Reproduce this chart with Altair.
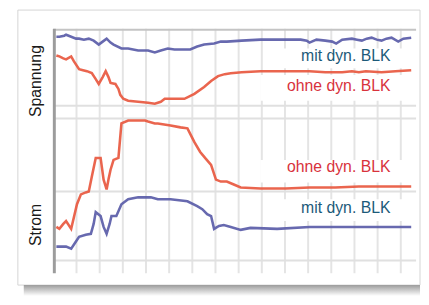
import altair as alt
import pandas as pd

# time axis: 1 unit = one vertical grid division; values in relative units
sp_mit_t = [0.13,0.26,0.47,0.55,0.77,0.98,1.11,1.32,1.53,1.74,1.96,2.13,2.30,2.47,2.60,2.94,3.23,3.66,4.09,4.38,4.64,4.94,5.23,5.49,5.91,6.21,6.51,6.94,7.23,7.49,8.13,8.94,10.04,10.68,10.94,11.06,11.36,11.74,12.04,12.21,12.47,12.89,13.11,13.32,13.53,13.74,13.96,14.17,14.38,14.60,14.89,15.11,15.45]
sp_mit_v = [240,240,241,242,240,238,238,237,238,236,232,235,238,234,232,228,228,226,226,224,226,228,227,227,227,230,232,233,235,235,236,237,237,237,236,234,237,236,235,233,237,238,237,236,238,239,237,236,238,239,235,238,239]

sp_ohne_t = [0.13,0.26,0.43,0.55,0.77,0.89,1.11,1.28,1.45,1.66,1.83,1.96,2.13,2.26,2.38,2.47,2.68,2.81,2.89,3.02,3.23,3.66,4.09,4.38,4.64,4.81,5.23,5.66,6.09,6.51,6.81,7.11,7.40,7.66,8.13,8.94,10.04,11.06,11.74,12.47,12.89,13.19,13.49,14.17,14.77,15.45]
sp_ohne_v = [221,220,218,217,220,215,207,206,205,203,197,192,199,205,199,193,192,187,181,177,175,174,173,172,174,177,177,177,182,189,195,200,202,203,204,205,205,205,204,204,205,204,205,204,205,206]

st_ohne_t = [0.13,0.26,0.43,0.55,0.77,0.89,1.02,1.19,1.40,1.53,1.66,1.83,2.04,2.17,2.30,2.38,2.47,2.60,2.81,2.94,3.23,3.66,3.96,4.09,4.38,4.51,5.06,5.49,5.79,6.09,6.34,6.55,6.81,7.02,7.23,7.49,7.79,8.09,8.94,10.04,11.06,12.17,13.19,14.30,15.45]
st_ohne_v = [47,45,50,53,45,57,70,80,82,83,98,117,117,95,85,95,105,115,117,152,155,155,155,154,152,152,150,148,147,133,123,117,110,95,93,93,90,87,86,86,87,87,88,88,88]

st_mit_t = [0.13,0.26,0.55,0.77,0.94,1.11,1.40,1.62,1.74,1.83,2.04,2.17,2.30,2.43,2.51,2.72,2.94,3.23,3.66,4.21,4.51,5.06,5.79,6.21,6.43,6.64,6.81,6.94,7.15,7.36,7.66,8.09,8.51,9.66,11.06,13.19,15.45]
st_mit_v = [27,27,27,25,31,37,39,40,50,62,58,47,40,50,58,58,70,75,77,77,75,75,73,68,65,60,58,45,48,49,47,44,46,45,47,47,47]

grid_t = list(range(1, 16))
grid_v = [13, 83, 157, 170]

label_text = ["mit dyn. BLK", "ohne dyn. BLK", "ohne dyn. BLK", "mit dyn. BLK"]
label_kind = ["mit", "ohne", "ohne", "mit"]
label_v = [220, 190, 108, 66]
box_t0 = [9.57, 8.94, 8.94, 9.57]
box_v0 = [208, 175, 92, 53]
box_v1 = [228, 201, 115, 75]

title_text = ["Spannung", "Strom"]
title_v = [195, 49]

# ---- tables ----
rows = []
for name, kind, ts, vs in [("Spannung mit", "mit", sp_mit_t, sp_mit_v),
                           ("Spannung ohne", "ohne", sp_ohne_t, sp_ohne_v),
                           ("Strom ohne", "ohne", st_ohne_t, st_ohne_v),
                           ("Strom mit", "mit", st_mit_t, st_mit_v)]:
    for t, v in zip(ts, vs):
        rows.append({"t": t, "v": v, "series": name, "kind": kind})
lines_df = pd.DataFrame(rows)
vgrid_df = pd.DataFrame({"t": grid_t})
hgrid_df = pd.DataFrame({"v": grid_v})
labels_df = pd.DataFrame({"text": label_text, "kind": label_kind, "v": label_v,
                          "t0": box_t0, "t1": [15.45] * 4, "v0": box_v0, "v1": box_v1})
titles_df = pd.DataFrame({"text": title_text, "v": title_v})
one = pd.DataFrame({"a": [0]})

xs = alt.Scale(domain=[0, 15.66], nice=False, zero=False)
ys = alt.Scale(domain=[0, 248], nice=False, zero=False)

FONT = "Liberation Sans"

card = alt.Chart(one).mark_rect(fill="white", stroke="#d4d4d4", strokeWidth=1).encode(
    x=alt.value(-36), x2=alt.value(372), y=alt.value(-19), y2=alt.value(260))

shadow = alt.Chart(one).mark_rect(
    fill=alt.Gradient(gradient="linear",
                      stops=[alt.GradientStop(color="#9c9c9c", offset=0),
                             alt.GradientStop(color="#ffffff", offset=1)],
                      x1=0, x2=0, y1=0, y2=1)).encode(
    x=alt.value(-30), x2=alt.value(372), y=alt.value(260), y2=alt.value(271))

vgrid = alt.Chart(vgrid_df).mark_rule(color="#e4e4e4", strokeWidth=2).encode(
    x=alt.X("t:Q", scale=xs, axis=None))
hgrid = alt.Chart(hgrid_df).mark_rule(color="#e0e0e0", strokeWidth=2).encode(
    y=alt.Y("v:Q", scale=ys, axis=None))

frame_top = alt.Chart(one).mark_rule(color="#c4c4c4", strokeWidth=2).encode(
    x=alt.value(0), x2=alt.value(368), y=alt.value(1))
frame_left = alt.Chart(one).mark_rule(color="#9c9c9c", strokeWidth=3).encode(
    x=alt.value(1), y=alt.value(0), y2=alt.value(248))

boxes = alt.Chart(labels_df).mark_rect(fill="white").encode(
    x=alt.X("t0:Q", scale=xs, axis=None), x2="t1:Q",
    y=alt.Y("v0:Q", scale=ys, axis=None), y2="v1:Q")

lines = alt.Chart(lines_df).mark_line(strokeWidth=2.6, opacity=0.92).encode(
    x=alt.X("t:Q", scale=xs, axis=None),
    y=alt.Y("v:Q", scale=ys, axis=None),
    color=alt.Color("kind:N", scale=alt.Scale(domain=["mit", "ohne"],
                                              range=["#5a5ca8", "#e8583f"]), legend=None),
    detail="series:N")

text_mit = alt.Chart(labels_df).transform_filter(alt.datum.kind == "mit").mark_text(
    align="right", baseline="middle", font=FONT, fontSize=16, color="#1c5a79").encode(
    x=alt.value(342), y=alt.Y("v:Q", scale=ys, axis=None), text="text:N")
text_ohne = alt.Chart(labels_df).transform_filter(alt.datum.kind == "ohne").mark_text(
    align="right", baseline="middle", font=FONT, fontSize=16, color="#d8323c").encode(
    x=alt.value(342), y=alt.Y("v:Q", scale=ys, axis=None), text="text:N")

titles = alt.Chart(titles_df).mark_text(
    angle=270, align="center", baseline="middle", font=FONT, fontSize=16, color="#1a1a1a").encode(
    x=alt.value(-18), y=alt.Y("v:Q", scale=ys, axis=None), text="text:N")

chart = alt.layer(card, shadow, vgrid, hgrid, boxes, frame_top, frame_left,
                  lines, text_mit, text_ohne, titles).properties(
    width=368, height=248,
    autosize=alt.AutoSizeParams(type="none"),
    padding={"left": 46, "top": 19, "right": 5, "bottom": 22},
).configure_view(strokeWidth=0)

chart.save("out.html", embed_options={"renderer": "svg", "actions": False})
